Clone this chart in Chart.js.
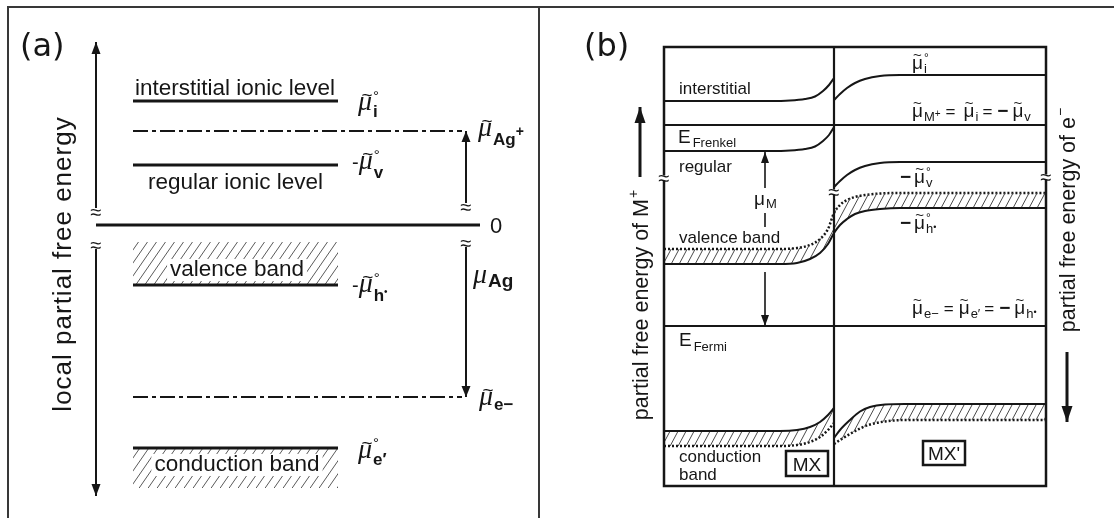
<!DOCTYPE html>
<html lang="en">
<head>
<meta charset="utf-8">
<title>Partial free energy levels</title>
<script src="https://cdn.jsdelivr.net/npm/chart.js@4.4.1/dist/chart.umd.min.js"></script>
<style>
  html, body { margin: 0; padding: 0; background: #fff; }
  #fig { position: relative; width: 1114px; height: 518px; overflow: hidden; background: #fff; }
  #fig canvas { position: absolute; top: 0; }
  #ca { left: 0; }
  #cb { left: 540px; }
</style>
</head>
<body>
<div id="fig">
  <canvas id="ca" width="540" height="518"></canvas>
  <canvas id="cb" width="574" height="518"></canvas>
</div>
<script>
// ---------------- (a) levels of a single crystal, energy zero at the metal ----------------
const energyRangeA     = [-2.71, 1.83];
const positionRangeA   = [0, 38.4];
const levelNamesA      = ['interstitial ionic level', 'regular ionic level', 'valence band', 'conduction band'];
const levelEnergyA     = [1.24, 0.60, -0.60, -2.23];   // μ̃i°, −μ̃v°, −μ̃h•°, μ̃e′°
const bandLimitA       = [null, null, -0.17, -2.63];   // far side of the hatched bands
const levelSpanA       = [3.7, 24.2];
const potentialEnergyA = [0.94, -1.72];                // μ̃Ag+ and μ̃e−
const potentialSpanA   = [3.7, 36.6];
const zeroSpanA        = [0, 38.4];
const axisUpA          = [0.13, 1.83];
const axisDownA        = [-0.20, -2.71];
const agUpA            = [0.18, 0.94];
const agDownA          = [-0.18, -1.72];
const axisXA = 0, agArrowXA = 37.0;

// ---------------- (b) MX | MX' contact, energy relative to E_Fermi ----------------
const distanceRangeB = [-17, 21.2];     // interface at 0
const energyRangeB   = [-1.6, 2.79];
const muMplusB       = 2.01;
const eFermiB        = 0;
const sideXL         = [-17, -6.4, -4.4, -2.9, -1.9, -1.1, -0.5, 0];
const sideXR         = [0, 0.6, 1.3, 2.1, 3.1, 4.6, 6.6, 21.2];
const interstitialL  = [2.25, 2.25, 2.255, 2.27, 2.295, 2.35, 2.41, 2.48];
const interstitialR  = [2.26, 2.32, 2.38, 2.43, 2.47, 2.50, 2.51, 2.51];
const regularL       = [1.75, 1.75, 1.755, 1.77, 1.795, 1.85, 1.91, 1.99];
const regularR       = [1.39, 1.45, 1.51, 1.56, 1.60, 1.63, 1.64, 1.64];
const valenceX       = [-17, -5.4, -3.7, -2.4, -1.4, -0.6, 0, 0.6, 1.3, 2.1, 3.1, 4.6, 6.6, 21.2];
const valenceEdge    = [0.62, 0.62, 0.63, 0.67, 0.73, 0.82, 0.93, 1.01, 1.07, 1.12, 1.15, 1.17, 1.18, 1.18];
const valenceInner   = [0.77, 0.77, 0.78, 0.81, 0.87, 0.97, 1.13, 1.21, 1.26, 1.29, 1.31, 1.325, 1.33, 1.33];
const condXL         = [-17, -5.4, -3.7, -2.4, -1.4, -0.6, 0];
const condEdgeL      = [-1.05, -1.05, -1.04, -1.01, -0.96, -0.89, -0.82];
const condInnerL     = [-1.20, -1.20, -1.19, -1.16, -1.11, -1.04, -0.97];
const condXR         = [0, 0.6, 1.6, 2.6, 3.6, 5.1, 7.1, 21.2];
const condEdgeR      = [-1.12, -1.04, -0.94, -0.855, -0.81, -0.785, -0.78, -0.78];
const condInnerR     = [-1.18, -1.14, -1.08, -1.025, -0.985, -0.955, -0.94, -0.94];
const muMArrowX      = -6.9;
const muMUp          = [1.38, 1.74];
const muMMid         = [1.13, 0.99];
const muMDown        = [0.54, 0];
const ionArrowX      = -19.4, ionArrow  = [1.49, 2.19];
const elecArrowX     = 23.3,  elecArrow = [-0.26, -0.96];
const breakB         = [[-17, 1.48], [0, 1.34], [21.2, 1.49]];

// ---------------- drawing helpers ----------------
const INK   = '#161616';
const SANS  = '"Liberation Sans", Arial, Helvetica, sans-serif';
const SERIF = '"Liberation Serif", "Times New Roman", serif';

const pts = (xs, ys) => xs.map((x, i) => ({ x, y: ys[i] }));
const pair = (xs, ys) => [{ x: xs[0], y: ys[0] }, { x: xs[1], y: ys[1] }];

function line(data, o = {}) {
  return Object.assign({ data, showLine: true, borderColor: INK, borderWidth: 2, pointRadius: 0,
    pointHoverRadius: 0, fill: false, clip: false, tension: 0, borderCapStyle: 'butt' }, o);
}
function curve(data, o = {}) {
  return line(data, Object.assign({ tension: 0.4, cubicInterpolationMode: 'monotone' }, o));
}

function hatchPattern(step, h, color, lw) {
  const c = document.createElement('canvas');
  c.width = step; c.height = h;
  const g = c.getContext('2d');
  g.strokeStyle = color; g.lineWidth = lw;
  g.beginPath();
  for (let k = -1; k <= 1; k++) { g.moveTo(k * step, h); g.lineTo((k + 1) * step, 0); }
  g.stroke();
  return g.createPattern(c, 'repeat');
}

function layoutRich(ctx, parts) {
  const ops = []; let x = 0, lastX = 0, lastW = 0;
  for (const p of parts) {
    if (p.over) {
      ctx.font = p.f; const w = ctx.measureText(p.t).width;
      ops.push({ t: p.t, f: p.f, x: lastX + (lastW - w) / 2 + (p.dx || 0), dy: p.dy || 0 });
      continue;
    }
    x += p.dx || 0;
    if (p.stack) {
      let mw = 0;
      for (const q of p.stack) {
        ctx.font = q.f; const w = ctx.measureText(q.t).width;
        ops.push({ t: q.t, f: q.f, x: x + (q.dx || 0), dy: q.dy || 0 });
        mw = Math.max(mw, w + (q.dx || 0));
      }
      x += mw; continue;
    }
    ctx.font = p.f; const w = ctx.measureText(p.t).width;
    ops.push({ t: p.t, f: p.f, x, dy: p.dy || 0 });
    lastX = x; lastW = w; x += w;
  }
  return { ops, width: x };
}
function drawRich(ctx, x, y, parts, align) {
  const L = layoutRich(ctx, parts);
  const x0 = align === 'center' ? x - L.width / 2 : align === 'right' ? x - L.width : x;
  ctx.textAlign = 'left'; ctx.textBaseline = 'alphabetic';
  for (const o of L.ops) { ctx.font = o.f; ctx.fillText(o.t, x0 + o.x, y + o.dy); }
  return L.width;
}
function drawRotated(ctx, cx, cy, parts, size, spacing) {
  ctx.save();
  ctx.translate(cx, cy); ctx.rotate(-Math.PI / 2);
  if (spacing) ctx.letterSpacing = spacing;
  drawRich(ctx, 0, 0.27 * size, parts, 'center');
  ctx.restore();
}
function breakMark(ctx, x, y, w, h, size) {
  ctx.save();
  ctx.fillStyle = '#fff';
  ctx.fillRect(x - w / 2, y - h / 2, w, h);
  ctx.fillStyle = INK;
  ctx.font = `${size}px ${SANS}`;
  ctx.textAlign = 'center'; ctx.textBaseline = 'alphabetic';
  ctx.fillText('≈', x, y + 0.37 * size);
  ctx.restore();
}
function arrowHeads(chart) {
  const ctx = chart.ctx;
  chart.data.datasets.forEach((ds, i) => {
    if (!ds.arrowLen) return;
    const el = chart.getDatasetMeta(i).data;
    const a = el[el.length - 2], b = el[el.length - 1];
    const ang = Math.atan2(b.y - a.y, b.x - a.x);
    ctx.save();
    ctx.translate(b.x, b.y); ctx.rotate(ang);
    ctx.beginPath();
    ctx.moveTo(0, 0); ctx.lineTo(-ds.arrowLen, ds.arrowHalf); ctx.lineTo(-ds.arrowLen, -ds.arrowHalf);
    ctx.closePath(); ctx.fillStyle = INK; ctx.fill();
    ctx.restore();
  });
}
function labelOnWhite(ctx, text, x, y, font) {
  ctx.font = font;
  const w = ctx.measureText(text).width;
  ctx.fillStyle = '#fff';
  ctx.fillRect(x - w / 2 - 3, y - 17, w + 6, 22);
  ctx.fillStyle = INK;
  ctx.textAlign = 'center'; ctx.textBaseline = 'alphabetic';
  ctx.fillText(text, x, y);
}

// ---------------- panel (a) ----------------
const patA = hatchPattern(9, 13, '#5a5a5a', 1);
const dsA = [];
levelEnergyA.forEach((e, i) => {
  const d = line(pair(levelSpanA, [e, e]), { borderWidth: 2.8 });
  if (bandLimitA[i] !== null) { d.fill = { value: bandLimitA[i] }; d.backgroundColor = patA; }
  dsA.push(d);
});
dsA.push(line(pair(zeroSpanA, [0, 0]), { borderWidth: 2.8 }));
potentialEnergyA.forEach(e => dsA.push(line(pair(potentialSpanA, [e, e]), { borderWidth: 2.2, borderDash: [15, 4, 4, 4] })));
dsA.push(line(pair([axisXA, axisXA], axisUpA),   { borderWidth: 2, arrowLen: 12, arrowHalf: 4.5 }));
dsA.push(line(pair([axisXA, axisXA], axisDownA), { borderWidth: 2, arrowLen: 12, arrowHalf: 4.5 }));
dsA.push(line(pair([agArrowXA, agArrowXA], agUpA),   { borderWidth: 2, arrowLen: 11, arrowHalf: 4.5 }));
dsA.push(line(pair([agArrowXA, agArrowXA], agDownA), { borderWidth: 2, arrowLen: 11, arrowHalf: 4.5 }));

const MUA = `italic 28px ${SERIF}`, TILA = `19px ${SANS}`, SUBA = `bold 17px ${SANS}`, DEGA = `15px ${SANS}`;
const muA = [{ t: 'μ', f: MUA }, { t: '~', f: TILA, over: true, dx: 2, dy: -9 }];

const panelA = {
  id: 'panelA',
  afterDatasetsDraw(chart) {
    const ctx = chart.ctx;
    const X = v => chart.scales.x.getPixelForValue(v), Y = v => chart.scales.y.getPixelForValue(v);
    ctx.save();
    // figure border
    ctx.strokeStyle = '#383838'; ctx.lineWidth = 2;
    ctx.beginPath();
    ctx.moveTo(7, 7); ctx.lineTo(chart.width, 7);
    ctx.moveTo(8, 6); ctx.lineTo(8, chart.height);
    ctx.moveTo(chart.width - 1, 6); ctx.lineTo(chart.width - 1, chart.height);
    ctx.stroke();

    arrowHeads(chart);
    breakMark(ctx, X(axisXA), Y(axisUpA[0]), 12, 8, 20);
    breakMark(ctx, X(axisXA), Y(axisDownA[0]), 12, 8, 20);
    breakMark(ctx, X(agArrowXA), Y(agUpA[0]), 12, 8, 20);
    breakMark(ctx, X(agArrowXA), Y(agDownA[0]), 12, 8, 20);

    ctx.fillStyle = INK;
    ctx.font = `32px "DejaVu Sans", sans-serif`; ctx.textAlign = 'left'; ctx.textBaseline = 'alphabetic';
    ctx.fillText('(a)', 20, 56);

    const F = `22.5px ${SANS}`;
    ctx.font = F;
    ctx.fillText(levelNamesA[0], X(3.9), Y(levelEnergyA[0]) - 6);
    ctx.fillText(levelNamesA[1], X(5.2), Y(levelEnergyA[1]) + 24);
    labelOnWhite(ctx, levelNamesA[2], X(14.1), Y(levelEnergyA[2]) - 9, F);
    labelOnWhite(ctx, levelNamesA[3], X(14.1), Y(levelEnergyA[3]) + 23, F);

    ctx.font = `22px ${SANS}`; ctx.textAlign = 'left';
    ctx.fillText('0', X(39.4), Y(0) + 8);

    drawRich(ctx, X(26.2), Y(levelEnergyA[0]) + 9,
      [...muA, { dx: 1, stack: [{ t: '°', f: DEGA, dy: -9 }, { t: 'i', f: SUBA, dy: 7 }] }]);
    drawRich(ctx, X(25.6), Y(levelEnergyA[1]) + 4,
      [{ t: '-', f: `20px ${SANS}` }, ...muA, { dx: 1, stack: [{ t: '°', f: DEGA, dy: -9 }, { t: 'v', f: SUBA, dy: 9 }] }]);
    drawRich(ctx, X(25.6), Y(levelEnergyA[2]) + 7,
      [{ t: '-', f: `20px ${SANS}` }, ...muA, { dx: 1, stack: [{ t: '°', f: DEGA, dy: -9 }, { t: 'h', f: SUBA, dy: 9 }] },
       { t: '•', f: `10px ${SANS}`, dy: 3 }]);
    drawRich(ctx, X(26.2), Y(levelEnergyA[3]) + 10,
      [...muA, { dx: 1, stack: [{ t: '°', f: DEGA, dy: -10 }, { t: 'e′', f: SUBA, dy: 7 }] }]);
    drawRich(ctx, X(38.2), Y(potentialEnergyA[0]) + 5,
      [...muA, { t: 'Ag', f: SUBA, dy: 9, dx: 1 }, { t: '+', f: `bold 14px ${SANS}`, dy: 0 }]);
    drawRich(ctx, X(38.3), Y(potentialEnergyA[1]) + 8,
      [...muA, { t: 'e−', f: SUBA, dy: 5, dx: 1 }]);
    drawRich(ctx, X(37.7), Y(-0.58),
      [{ t: 'μ', f: MUA }, { t: 'Ag', f: `bold 19px ${SANS}`, dy: 4, dx: 1 }]);

    ctx.fillStyle = INK;
    drawRotated(ctx, X(-3.2), Y(-0.39), [{ t: 'local partial free energy', f: `26px ${SANS}` }], 26, '1px');
    ctx.restore();
  }
};

new Chart(document.getElementById('ca'), {
  type: 'scatter',
  data: { datasets: dsA },
  options: {
    responsive: false, animation: false, events: [],
    layout: { padding: { left: 96, right: 60, top: 42, bottom: 22 } },
    scales: {
      x: { type: 'linear', display: false, min: positionRangeA[0], max: positionRangeA[1] },
      y: { type: 'linear', display: false, min: energyRangeA[0], max: energyRangeA[1] }
    },
    plugins: { legend: { display: false }, tooltip: { enabled: false } }
  },
  plugins: [panelA]
});

// ---------------- panel (b) ----------------
const patB = hatchPattern(8, 15, '#4a4a4a', 1);
const dotted = { borderDash: [2, 2], borderWidth: 2.5 };
const dsB = [
  line(pair([0, 0], energyRangeB), { borderWidth: 2.2 }),
  line(pair(distanceRangeB, [muMplusB, muMplusB]), { borderWidth: 2 }),
  line(pair(distanceRangeB, [eFermiB, eFermiB]), { borderWidth: 2 }),
  curve(pts(sideXL, interstitialL)),
  curve(pts(sideXR, interstitialR)),
  curve(pts(sideXL, regularL)),
  curve(pts(sideXR, regularR)),
  curve(pts(valenceX, valenceEdge), { fill: '+1', backgroundColor: patB }),
  curve(pts(valenceX, valenceInner), dotted),
  curve(pts(condXL, condEdgeL), { fill: '+1', backgroundColor: patB }),
  curve(pts(condXL, condInnerL), dotted),
  curve(pts(condXR, condEdgeR), { fill: '+1', backgroundColor: patB }),
  curve(pts(condXR, condInnerR), dotted),
  line(pair([muMArrowX, muMArrowX], muMUp),   { borderWidth: 1.6, arrowLen: 11, arrowHalf: 4 }),
  line(pair([muMArrowX, muMArrowX], muMMid),  { borderWidth: 1.6 }),
  line(pair([muMArrowX, muMArrowX], muMDown), { borderWidth: 1.6, arrowLen: 11, arrowHalf: 4 }),
  line(pair([ionArrowX, ionArrowX], ionArrow),   { borderWidth: 3, arrowLen: 16, arrowHalf: 5.5 }),
  line(pair([elecArrowX, elecArrowX], elecArrow), { borderWidth: 3, arrowLen: 16, arrowHalf: 5.5 })
];

const MUB = `19px ${SANS}`, TILB = `15px ${SANS}`, SUBB = `13px ${SANS}`, DEGB = `12px ${SANS}`;
const EQB = `17px ${SANS}`, MINB = `bold 19px ${SANS}`, DOTB = `9px ${SANS}`;
const til = { t: '~', f: TILB, over: true, dy: -9 };
const muB = [{ t: 'μ', f: MUB }, til];

function box(ctx, cx, cy, w, h, text) {
  ctx.lineWidth = 2.5; ctx.strokeStyle = INK;
  ctx.strokeRect(cx - w / 2, cy - h / 2, w, h);
  ctx.font = `19px ${SANS}`; ctx.textAlign = 'center'; ctx.textBaseline = 'alphabetic';
  ctx.fillStyle = INK; ctx.fillText(text, cx, cy + 7);
}

const panelB = {
  id: 'panelB',
  afterDatasetsDraw(chart) {
    const ctx = chart.ctx, ca = chart.chartArea;
    const X = v => chart.scales.x.getPixelForValue(v), Y = v => chart.scales.y.getPixelForValue(v);
    ctx.save();
    // figure border
    ctx.strokeStyle = '#383838'; ctx.lineWidth = 2;
    ctx.beginPath(); ctx.moveTo(0, 7); ctx.lineTo(chart.width, 7); ctx.stroke();
    // diagram frame
    ctx.strokeStyle = INK; ctx.lineWidth = 2.5;
    ctx.strokeRect(ca.left, ca.top, ca.right - ca.left, ca.bottom - ca.top);

    arrowHeads(chart);
    breakB.forEach(([bx, by]) => breakMark(ctx, X(bx), Y(by), 12, 5, 20));

    ctx.fillStyle = INK;
    ctx.font = `32px "DejaVu Sans", sans-serif`; ctx.textAlign = 'left'; ctx.textBaseline = 'alphabetic';
    ctx.fillText('(b)', X(-25.0), 56);

    const T = `17px ${SANS}`;
    ctx.font = T;
    ctx.fillText('interstitial', X(-15.5), Y(2.32));
    ctx.fillText('regular', X(-15.5), Y(1.54));
    ctx.fillText('valence band', X(-15.5), Y(0.83));
    ctx.fillText('conduction', X(-15.5), Y(-1.36));
    ctx.fillText('band', X(-15.5), Y(-1.54));
    drawRich(ctx, X(-15.6), Y(1.83), [{ t: 'E', f: `19px ${SANS}` }, { t: 'Frenkel', f: SUBB, dy: 4, dx: 2 }]);
    drawRich(ctx, X(-15.5), Y(-0.20), [{ t: 'E', f: `19px ${SANS}` }, { t: 'Fermi', f: SUBB, dy: 5, dx: 2 }]);

    box(ctx, X(-2.7), Y(-1.375), 42, 25, 'MX');
    box(ctx, X(11.0), Y(-1.27), 42, 24, 'MX\'');

    ctx.fillStyle = INK;
    drawRich(ctx, X(7.8), Y(2.57),
      [...muB, { dx: 1, stack: [{ t: '°', f: DEGB, dy: -7 }, { t: 'i', f: SUBB, dy: 4 }] }]);
    drawRich(ctx, X(7.8), Y(2.09),
      [...muB, { t: 'M', f: SUBB, dy: 4, dx: 1 }, { t: '+', f: `10px ${SANS}`, dy: 0 },
       { t: '=', f: EQB, dx: 5 }, { t: 'μ', f: MUB, dx: 8 }, til, { t: 'i', f: SUBB, dy: 4, dx: 1 },
       { t: '=', f: EQB, dx: 4 }, { t: '−', f: MINB, dx: 5 }, { t: 'μ', f: MUB, dx: 4 }, til,
       { t: 'v', f: SUBB, dy: 4, dx: 1 }]);
    drawRich(ctx, X(6.6), Y(1.43),
      [{ t: '−', f: MINB }, { t: 'μ', f: MUB, dx: 3 }, til,
       { dx: 1, stack: [{ t: '°', f: DEGB, dy: -7 }, { t: 'v', f: SUBB, dy: 4 }] }]);
    drawRich(ctx, X(6.6), Y(0.97),
      [{ t: '−', f: MINB }, { t: 'μ', f: MUB, dx: 3 }, til,
       { dx: 1, stack: [{ t: '°', f: DEGB, dy: -7 }, { t: 'h', f: SUBB, dy: 4 }] }, { t: '•', f: DOTB, dy: 1 }]);
    drawRich(ctx, X(7.8), Y(0.12),
      [...muB, { t: 'e−', f: SUBB, dy: 4, dx: 1 },
       { t: '=', f: EQB, dx: 5 }, { t: 'μ', f: MUB, dx: 5 }, til, { t: 'e′', f: SUBB, dy: 4, dx: 1 },
       { t: '=', f: EQB, dx: 4 }, { t: '−', f: MINB, dx: 5 }, { t: 'μ', f: MUB, dx: 4 }, til,
       { t: 'h', f: SUBB, dy: 4, dx: 1 }, { t: '•', f: DOTB, dy: 1 }]);
    drawRich(ctx, X(-8.0), Y(1.21), [{ t: 'μ', f: MUB }, { t: 'M', f: SUBB, dy: 3, dx: 1 }]);

    drawRotated(ctx, X(-19.2), Y(0.21),
      [{ t: 'partial free energy of M', f: `21.5px ${SANS}` }, { t: '+', f: `14px ${SANS}`, dy: -10, dx: 1 }], 21.5);
    drawRotated(ctx, X(23.5), Y(1.06),
      [{ t: 'partial free energy of e', f: `21.5px ${SANS}` }, { t: '−', f: `14px ${SANS}`, dy: -10, dx: 1 }], 21.5);
    ctx.restore();
  }
};

new Chart(document.getElementById('cb'), {
  type: 'scatter',
  data: { datasets: dsB },
  options: {
    responsive: false, animation: false, events: [],
    layout: { padding: { left: 124, right: 68, top: 47, bottom: 32 } },
    scales: {
      x: { type: 'linear', display: false, min: distanceRangeB[0], max: distanceRangeB[1] },
      y: { type: 'linear', display: false, min: energyRangeB[0], max: energyRangeB[1] }
    },
    plugins: { legend: { display: false }, tooltip: { enabled: false } }
  },
  plugins: [panelB]
});
</script>
</body>
</html>
